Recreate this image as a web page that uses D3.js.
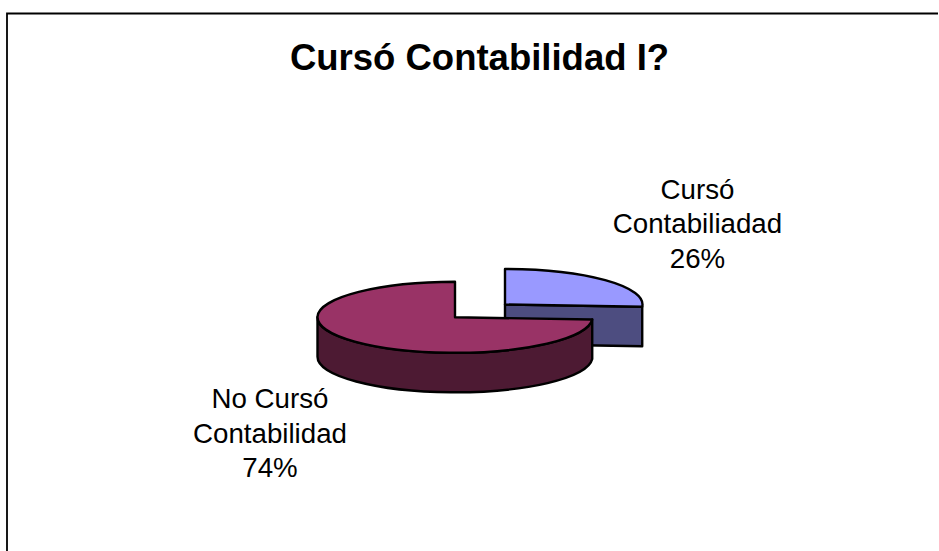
<!DOCTYPE html>
<html><head><meta charset="utf-8">
<script src="https://cdn.jsdelivr.net/npm/d3@7"></script>
<style>html,body{margin:0;padding:0;background:#fff}svg{display:block}text{font-family:"Liberation Sans",Arial,sans-serif;fill:#000}</style>
</head><body><svg id="c" width="939" height="551"></svg>
<script>
const categories = ["Cursó Contabiliadad", "No Cursó Contabilidad"];
const values = [26, 74];
const topColors = ["#9999ff", "#993366"];
const sideColors = ["#4d4d80", "#4d1a33"];
const titleText = "Cursó Contabilidad I?";
const labelLines = [["Cursó", "Contabiliadad", "26%"], ["No Cursó", "Contabilidad", "74%"]];

const rx = 137.5, ry = 35.5, depth = 39.5;
const centers = [[505, 304.5], [455, 317.3]];
const labelAnchors = [[697.5, 198.6], [270, 408]];
const svg = d3.select("#c");

svg.append("path").attr("d", "M938,13.5H7V551").attr("fill", "none").attr("stroke", "#000").attr("stroke-width", 1.8);
svg.append("text").attr("x", 479.5).attr("y", 69.5).attr("text-anchor", "middle")
  .attr("font-size", 36.5).attr("font-weight", "bold").text(titleText);

const arcs = d3.pie().sort(null)(values);
const pt = (c, a, dy = 0) => [c[0] + rx * Math.sin(a), c[1] - ry * Math.cos(a) + dy];

function arcPath(c, a0, a1, dy) {
  const [x, y] = pt(c, a1, dy);
  const large = Math.abs(a1 - a0) > Math.PI ? 1 : 0;
  return `A${rx},${ry} 0 ${large} ${a1 > a0 ? 1 : 0} ${x},${y}`;
}

const style = s => s.attr("stroke", "#000").attr("stroke-width", 2.4).attr("stroke-linejoin", "round");

arcs.forEach((d, i) => {
  const c = centers[i], g = svg.append("g");
  if (i === 0) {
    // cut face of the small slice, seen from the front
    const e = pt(c, d.endAngle);
    g.append("path").call(style).attr("fill", sideColors[i])
      .attr("d", `M${c[0]},${c[1]}L${e[0]},${e[1]}V${e[1] + depth}L${c[0]},${c[1] + depth}Z`);
  } else {
    // outer wall of the large slice, front half only
    const a0 = d.startAngle, a1 = 1.5 * Math.PI;
    const s = pt(c, a0), e = pt(c, a1);
    g.append("path").call(style).attr("fill", sideColors[i])
      .attr("d", `M${s[0]},${s[1]}${arcPath(c, a0, a1, 0)}V${e[1] + depth}${arcPath(c, a1, a0, depth)}Z`);
  }
  const s = pt(c, d.startAngle);
  g.append("path").call(style).attr("fill", topColors[i])
    .attr("d", `M${c[0]},${c[1]}L${s[0]},${s[1]}${arcPath(c, d.startAngle, d.endAngle, 0)}Z`);
});

labelLines.forEach((lines, i) => {
  const t = svg.append("text").attr("text-anchor", "middle").attr("font-size", 27.7);
  lines.forEach((l, k) => t.append("tspan").attr("x", labelAnchors[i][0]).attr("y", labelAnchors[i][1] + k * 34.7).text(l));
});
</script></body></html>
